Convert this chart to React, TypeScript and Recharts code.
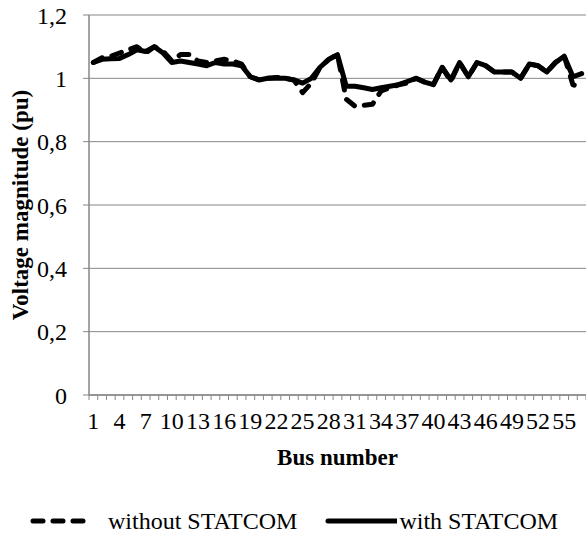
import { LineChart, Line, XAxis, YAxis, CartesianGrid, Legend } from 'recharts';

const FONT = 'Liberation Serif';
const AXIS = '#868686';

if (typeof document !== 'undefined') {
  document.body.style.margin = '0';
}

const buses = Array.from({ length: 57 }, (_, i) => i + 1);

const withoutStatcom = [
  1.05, 1.065, 1.07, 1.08, 1.09, 1.1, 1.08, 1.1, 1.085, 1.055,
  1.075, 1.075, 1.055, 1.05, 1.055, 1.06, 1.055, 1.045, 1.005, 0.995,
  1.0, 1.003, 1.0, 0.995, 0.955, 0.985, 1.035, 1.06, 1.075, 0.934,
  0.912, 0.915, 0.918, 0.96, 0.97, 0.98, 0.985, 1.0, 0.988, 0.98,
  1.035, 0.99, 1.05, 1.005, 1.05, 1.04, 1.02, 1.02, 1.02, 1.0,
  1.045, 1.04, 1.02, 1.05, 1.07, 0.98, 0.97,
];

const withStatcom = [
  1.05, 1.06, 1.062, 1.063, 1.075, 1.09, 1.085, 1.1, 1.08, 1.05,
  1.055, 1.05, 1.045, 1.04, 1.05, 1.045, 1.045, 1.04, 1.005, 0.995,
  1.0, 1.0, 1.0, 0.995, 0.985, 1.0, 1.035, 1.06, 1.075, 0.975,
  0.975, 0.97, 0.965, 0.97, 0.975, 0.98, 0.99, 1.0, 0.988, 0.98,
  1.035, 0.995, 1.05, 1.005, 1.05, 1.04, 1.02, 1.02, 1.02, 1.0,
  1.045, 1.04, 1.02, 1.05, 1.07, 1.005, 1.015,
];

const yTicks = [0, 0.2, 0.4, 0.6, 0.8, 1, 1.2];
const xLabelTicks = [1, 4, 7, 10, 13, 16, 19, 22, 25, 28, 31, 34, 37, 40, 43, 46, 49, 52, 55];
const xBoundaryTicks = Array.from({ length: 58 }, (_, i) => i + 0.5);

const data = buses.map((b, i) => ({
  bus: b,
  without: withoutStatcom[i],
  with: withStatcom[i],
}));

const tickStyle = { fill: '#000', fontSize: 24, fontFamily: FONT };

function YTitle(props: any) {
  const vb = props.viewBox;
  const x = vb.x + 20;
  const y = vb.y + vb.height / 2;
  return (
    <text
      x={x}
      y={y}
      transform={`rotate(-90, ${x}, ${y})`}
      textAnchor="middle"
      dominantBaseline="central"
      fontFamily={FONT}
      fontWeight="bold"
      fontSize={23}
      fill="#000"
    >
      Voltage magnitude (pu)
    </text>
  );
}

function XTitle(props: any) {
  const vb = props.viewBox;
  return (
    <text
      x={vb.x + vb.width / 2}
      y={vb.y + 56}
      textAnchor="middle"
      dominantBaseline="central"
      fontFamily={FONT}
      fontWeight="bold"
      fontSize={23}
      fill="#000"
    >
      Bus number
    </text>
  );
}

function LegendBox() {
  return (
    <div
      style={{
        boxSizing: 'border-box',
        height: 50,
        paddingTop: 18,
        paddingLeft: 30,
        display: 'flex',
        alignItems: 'center',
        fontFamily: FONT,
        fontSize: 24,
        color: '#000',
        whiteSpace: 'nowrap',
      }}
    >
      <svg width={57} height={10}>
        <line x1={3} y1={5} x2={55} y2={5} stroke="#000" strokeWidth={5} strokeDasharray="10 10" strokeLinecap="round" />
      </svg>
      <span style={{ marginLeft: 21, lineHeight: '32px' }}>without STATCOM</span>
      <svg width={72} height={10} style={{ marginLeft: 28 }}>
        <line x1={3} y1={5} x2={72} y2={5} stroke="#000" strokeWidth={5} strokeLinecap="round" />
      </svg>
      <span style={{ marginLeft: 2, lineHeight: '32px' }}>with STATCOM</span>
    </div>
  );
}

export default function App() {
  return (
    <LineChart
      width={586}
      height={537}
      data={data}
      margin={{ top: 15, right: 0, bottom: 0, left: 0 }}
    >
      <CartesianGrid vertical={false} stroke={AXIS} strokeWidth={1} />
      <XAxis
        xAxisId="a_marks"
        dataKey="bus"
        type="number"
        domain={[0.5, 57.5]}
        ticks={xBoundaryTicks}
        interval={0}
        height={6}
        tickSize={5}
        tickFormatter={() => ''}
        axisLine={{ stroke: AXIS, strokeWidth: 1.5 }}
        tickLine={{ stroke: AXIS, strokeWidth: 1 }}
      />
      <XAxis
        xAxisId="b_labels"
        dataKey="bus"
        type="number"
        domain={[0.5, 57.5]}
        ticks={xLabelTicks}
        interval={0}
        height={86}
        tickSize={0}
        tickMargin={11}
        axisLine={false}
        tickLine={false}
        tick={tickStyle}
        label={<XTitle />}
      />
      <YAxis
        domain={[0, 1.2]}
        ticks={yTicks}
        interval={0}
        width={89}
        tickSize={6}
        tickMargin={16}
        axisLine={{ stroke: AXIS, strokeWidth: 1.5 }}
        tickLine={{ stroke: AXIS, strokeWidth: 1 }}
        tick={tickStyle}
        tickFormatter={(v: number) => String(v).replace('.', ',')}
        label={<YTitle />}
      />
      <Legend verticalAlign="bottom" content={() => <LegendBox />} wrapperStyle={{ left: 0, width: 586, bottom: 0 }} />
      <Line
        xAxisId="a_marks"
        dataKey="without"
        name="without STATCOM"
        stroke="#000"
        strokeWidth={5}
        strokeDasharray="10 10"
        strokeLinecap="round"
        strokeLinejoin="round"
        dot={false}
        isAnimationActive={false}
      />
      <Line
        xAxisId="a_marks"
        dataKey="with"
        name="with STATCOM"
        stroke="#000"
        strokeWidth={5}
        strokeLinecap="round"
        strokeLinejoin="round"
        dot={false}
        isAnimationActive={false}
      />
    </LineChart>
  );
}
